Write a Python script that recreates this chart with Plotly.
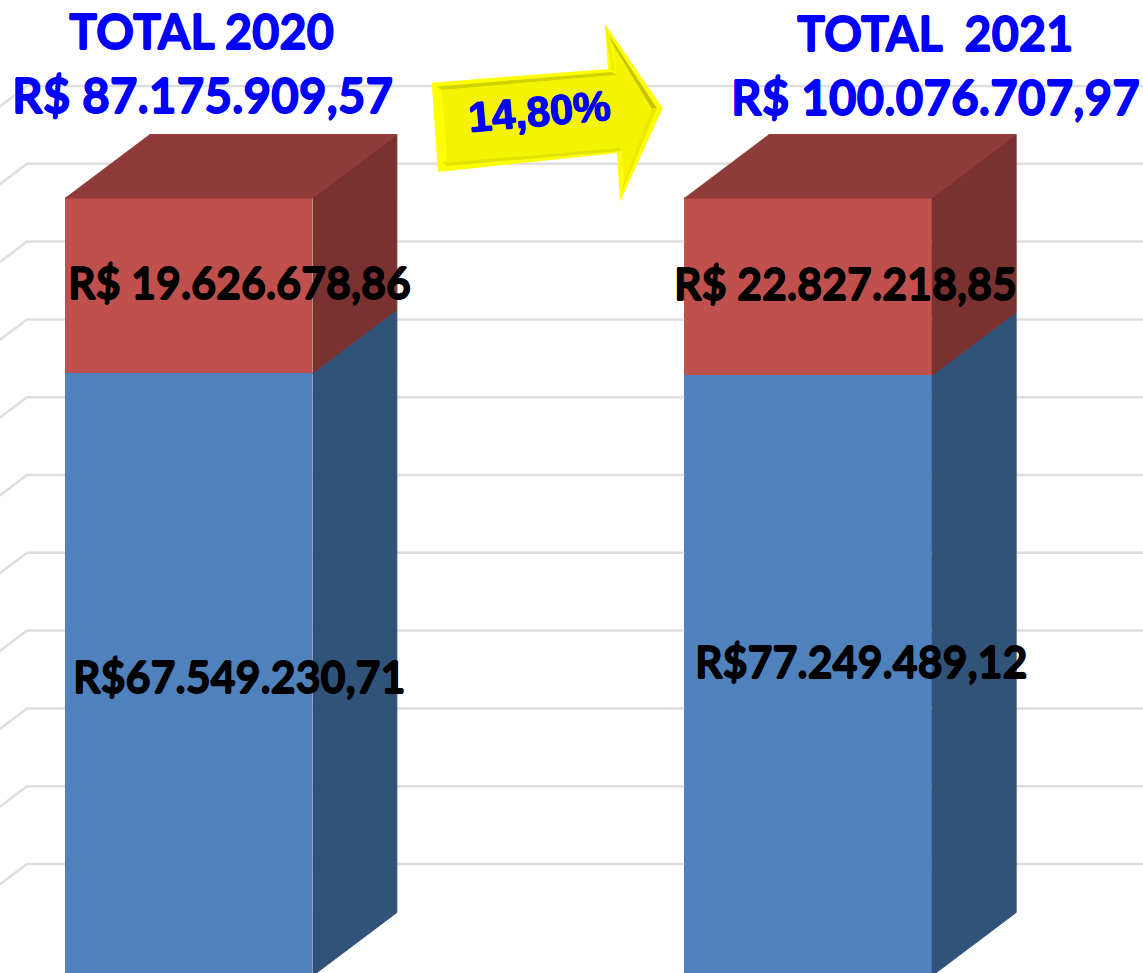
import plotly.graph_objects as go

# ---------- data ----------
years = ["2020", "2021"]
values_blue = [67549230.71, 77249489.12]
values_red = [19626678.86, 22827218.85]
label_blue = ["R$67.549.230,71", "R$77.249.489,12"]
label_red = ["R$ 19.626.678,86", "R$ 22.827.218,85"]
title_top = ["TOTAL 2020", "TOTAL  2021"]
title_total = ["R$ 87.175.909,57", "R$ 100.076.707,97"]
growth = "14,80%"
grid_levels = [0, 10, 20, 30, 40, 50, 60, 70, 80, 90, 100]

# ---------- geometry / style ----------
W, H = 1143, 973
PX_X = 619.3          # pixels per category step
PX_Y = 7.78           # pixels per percent
X0 = 188.7            # pixel of first category
Y0 = 976              # pixel of the 0% level (just below the crop)
x_range = [-X0 / PX_X, (W - X0) / PX_X]
y_range = [(Y0 - H) / PX_Y, Y0 / PX_Y]
BAR_W = 247.5 / PX_X
DEPTH_X = 84.4 / PX_X
DEPTH_Y = 63.5 / PX_Y
WALL_Y = 112 / PX_Y
WALL_X = DEPTH_X * WALL_Y / DEPTH_Y
WALL_LEFT = (27 - X0) / PX_X
GRID_COLOR = "#dedede"
BLUE, RED = "#4f81bd", "#c0504d"
BLUE_SIDE, RED_SIDE, RED_TOP = "#325379", "#7a3230", "#8f3b39"
positions = list(range(len(years)))

fig = go.Figure()

# back-wall gridlines, interrupted where a front face hides them
edges = [(p - BAR_W / 2, p + BAR_W / 2) for p in positions]
grid_x, grid_y = [], []
for g in grid_levels:
    wy = g + WALL_Y
    xs = [WALL_LEFT - WALL_X, WALL_LEFT]
    ys = [g, wy]
    if wy < 100:
        for left, right in edges:
            xs += [left, None, right]
            ys += [wy, None, wy]
    xs.append(x_range[1])
    ys.append(wy)
    grid_x += xs + [None]
    grid_y += ys + [None]
fig.add_trace(go.Scatter(x=grid_x, y=grid_y, mode="lines",
                         line=dict(color=GRID_COLOR, width=2.5),
                         hoverinfo="skip", showlegend=False))


def face(xs, ys, color):
    fig.add_trace(go.Scatter(x=xs, y=ys, mode="lines", fill="toself",
                             fillcolor=color, line=dict(color=color, width=1),
                             hoverinfo="skip", showlegend=False))


for p, b, r in zip(positions, values_blue, values_red):
    split = 100 * b / (b + r)
    xr = p + BAR_W / 2
    xl = p - BAR_W / 2
    face([xr, xr + DEPTH_X, xr + DEPTH_X, xr], [0, DEPTH_Y, split + DEPTH_Y, split], BLUE_SIDE)
    face([xr, xr + DEPTH_X, xr + DEPTH_X, xr], [split, split + DEPTH_Y, 100 + DEPTH_Y, 100], RED_SIDE)
    face([xl, xr, xr + DEPTH_X, xl + DEPTH_X], [100, 100, 100 + DEPTH_Y, 100 + DEPTH_Y], RED_TOP)

fig.add_trace(go.Bar(x=positions, y=values_blue, width=BAR_W, marker=dict(color=BLUE, line_width=0),
                     name="Blue", showlegend=False))
fig.add_trace(go.Bar(x=positions, y=values_red, width=BAR_W, marker=dict(color=RED, line_width=0),
                     name="Red", showlegend=False))


# ---------- decorative arrow ----------
def poly(points, color):
    path = "M " + " L ".join(f"{x / W:.5f},{1 - y / H:.5f}" for x, y in points) + " Z"
    fig.add_shape(type="path", xref="paper", yref="paper", path=path,
                  fillcolor=color, line_width=0)


outer = [(431.7, 82.7), (608, 69), (605, 24), (662.7, 108.3), (620, 201.7), (617, 153), (438, 172)]
inner = [(442, 90), (617, 75), (613, 45), (651.5, 108.5), (624, 181), (621.5, 148), (447, 162.5)]
poly(outer, "#ffff00")
poly([(437, 86.5), (612, 72), (617, 75), (442, 90)], "#d2d200")
poly([(442, 162), (620, 147), (621.5, 151), (447, 166)], "#e2e200")
poly([(609, 35), (657, 108.4), (651.5, 108.5), (613, 45)], "#c4c400")
poly([(605, 24), (609, 35), (616, 72), (611, 70)], "#f0f000")
poly([(657, 108.4), (622, 192), (624, 181), (651.5, 108.5)], "#eaea00")
poly(inner, "#f4f400")

# ---------- text ----------
LATO = "Lato, Carlito, sans-serif"


def text(x, y, s, color, size, family=LATO, angle=0, bolder=0.6):
    shadow = f"{bolder}px 0 0 {color}, -{bolder}px 0 0 {color}, 0 {bolder}px 0 {color}, 0 -{bolder}px 0 {color}"
    fig.add_annotation(x=x / W, y=1 - y / H, xref="paper", yref="paper", text=f"<b>{s}</b>",
                       showarrow=False, xanchor="center", yanchor="middle", textangle=angle,
                       font=dict(family=family, size=size, color=color, shadow=shadow))


text(201, 31, title_top[0], "#0000ff", 47)
text(202, 95, title_total[0], "#0000ff", 47.8)
text(935, 33, title_top[1], "#0000ff", 47)
text(935, 97, title_total[1], "#0000ff", 47.8)
text(239.5, 282.5, label_red[0], "#000000", 43)
text(845, 283.5, label_red[1], "#000000", 43)
text(238.5, 676.5, label_blue[0], "#000000", 43)
text(860.5, 661.5, label_blue[1], "#000000", 43)
text(539, 111, growth, "#0000ff", 42, family="Liberation Sans, Arial, sans-serif", angle=-5, bolder=0.6)

fig.update_layout(
    width=W, height=H, autosize=False,
    margin=dict(l=0, r=0, t=0, b=0),
    paper_bgcolor="white", plot_bgcolor="white",
    barmode="stack", barnorm="percent", bargap=0,
    showlegend=False,
    xaxis=dict(range=x_range, visible=False, fixedrange=True),
    yaxis=dict(range=y_range, visible=False, fixedrange=True),
)
fig.write_html("out.html", config={"displayModeBar": False},
               post_script="document.body.style.margin='0';document.documentElement.style.overflow='hidden';")
